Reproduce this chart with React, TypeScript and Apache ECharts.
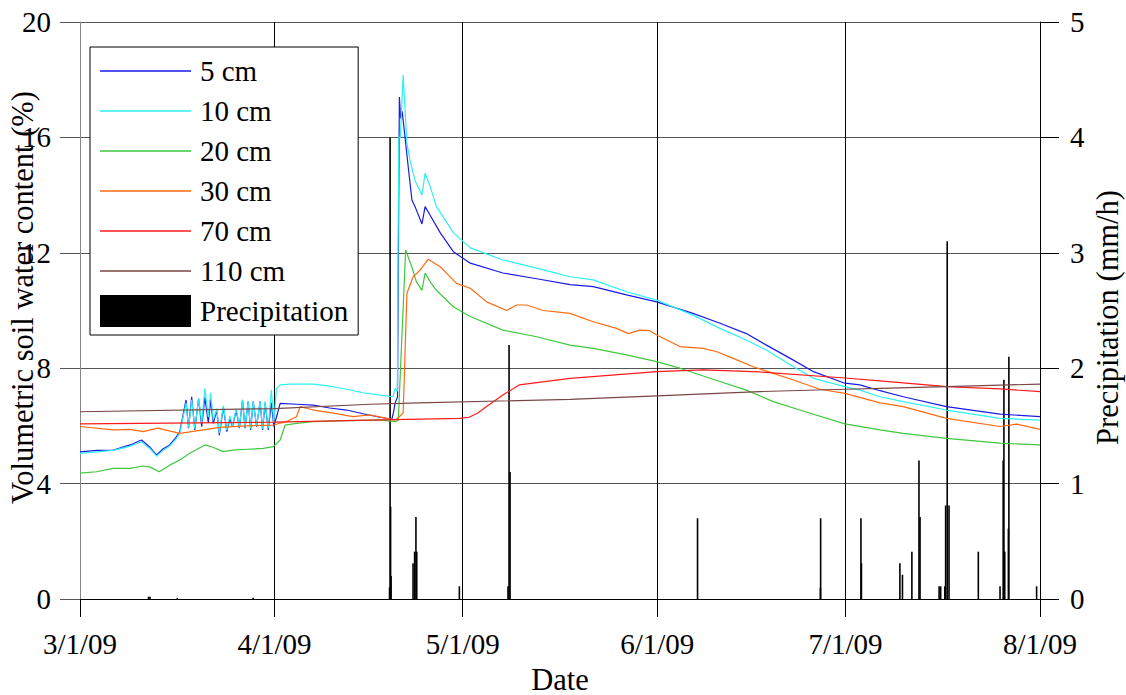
import React, { useEffect, useRef } from "react";
import * as echarts from "echarts";

// Days since 2009-03-01 00:00 and values
const START = [2009, 2, 1];
const END = [2009, 7, 1];

const cm5: [number, number][] = [
  [0, 5.1], [2.66, 5.15], [5.3, 5.16], [8.0, 5.34], [9.8, 5.51], [11.2, 5.25], [12.2, 4.99], [13.2, 5.2],
  [14.3, 5.34], [15.3, 5.6], [15.9, 5.8], [16.9, 6.9], [17.3, 5.92], [17.8, 7.01], [18.3, 5.86], [18.9, 6.95],
  [19.4, 5.97], [19.9, 7.0], [20.45, 6.1], [20.8, 6.9], [21.25, 6.09], [21.8, 6.55], [22.2, 5.68], [22.85, 6.65],
  [23.4, 5.8], [23.9, 6.26], [24.3, 5.97], [24.9, 6.55], [25.4, 5.92], [25.9, 6.9], [26.3, 5.92], [26.8, 6.85],
  [27.2, 5.86], [27.6, 6.85], [28.15, 5.97], [28.7, 6.85], [29.1, 5.86], [29.5, 6.8], [30.0, 5.86], [30.5, 6.8],
  [30.9, 5.97], [31.9, 6.78], [34.5, 6.75], [37.2, 6.72], [39.8, 6.62], [42.5, 6.55], [45.1, 6.42], [47.8, 6.3],
  [49.7, 6.23], [50.0, 6.5], [50.2, 6.78], [50.6, 7.0], [50.9, 17.4], [51.1, 16.66], [51.35, 16.9], [52.3, 15.0],
  [52.9, 13.83], [53.4, 13.6], [54.5, 13.0], [55.0, 13.6], [55.8, 13.3], [57.4, 12.7], [59.5, 12.04], [62.2, 11.64],
  [67.4, 11.3], [72.8, 11.1], [78.1, 10.9], [81.8, 10.83], [87.1, 10.54], [91.9, 10.3], [97.7, 9.9], [102.0, 9.56],
  [106.2, 9.2], [109.4, 8.8], [113.7, 8.28], [116.9, 7.88], [121.9, 7.48], [124.3, 7.42], [127.5, 7.22], [131.2, 7.01],
  [138.1, 6.67], [146.6, 6.41], [153, 6.32],
];

const cm10: [number, number][] = [
  [0, 5.05], [2.66, 5.1], [5.3, 5.15], [8.0, 5.3], [9.8, 5.45], [11.2, 5.2], [12.2, 4.95], [13.2, 5.15],
  [14.3, 5.3], [15.3, 5.55], [15.9, 5.75], [16.9, 6.8], [17.3, 5.95], [17.8, 6.9], [18.3, 5.9], [18.9, 6.95],
  [19.4, 6.1], [19.9, 7.3], [20.45, 6.3], [20.8, 7.15], [21.25, 6.2], [21.8, 6.6], [22.2, 5.75], [22.85, 6.7],
  [23.4, 5.85], [23.9, 6.35], [24.3, 6.0], [24.9, 6.6], [25.4, 5.95], [25.9, 6.9], [26.3, 5.95], [26.8, 6.85],
  [27.2, 5.9], [27.6, 6.85], [28.15, 6.0], [28.7, 6.85], [29.1, 5.9], [29.5, 6.85], [30.0, 5.9], [30.5, 7.25],
  [30.9, 6.1], [31.3, 7.3], [31.9, 7.42], [33.5, 7.45], [37.2, 7.45], [39.8, 7.38], [42.5, 7.27], [45.1, 7.15],
  [47.8, 7.07], [49.9, 7.01], [50.2, 7.3], [50.57, 7.2], [50.8, 16.0], [51.05, 16.0], [51.5, 18.16], [52.1, 15.8],
  [52.6, 15.2], [53.4, 14.5], [54.5, 14.0], [55.0, 14.76], [55.8, 14.3], [56.8, 13.6], [59.5, 12.7], [62.2, 12.17],
  [67.4, 11.75], [72.8, 11.47], [78.1, 11.17], [81.8, 11.06], [87.1, 10.65], [91.9, 10.36], [97.7, 9.84], [102.0, 9.38],
  [106.2, 8.98], [109.4, 8.63], [113.7, 8.05], [116.9, 7.65], [121.9, 7.36], [124.3, 7.24], [127.5, 7.01], [131.2, 6.84],
  [138.1, 6.55], [146.6, 6.26], [153, 6.2],
];

const cm20: [number, number][] = [
  [0, 4.36], [2.66, 4.41], [5.3, 4.53], [8.0, 4.53], [10.0, 4.61], [11.2, 4.57], [12.6, 4.41], [14.3, 4.64],
  [15.9, 4.82], [17.5, 5.05], [19.9, 5.34], [21.2, 5.26], [22.8, 5.11], [24.4, 5.16], [26.6, 5.19], [29.2, 5.22],
  [30.8, 5.28], [31.9, 5.51], [32.7, 6.03], [34.5, 6.09], [37.2, 6.15], [42.5, 6.18], [47.8, 6.2], [50.4, 6.15],
  [50.73, 6.2], [51.9, 12.1], [52.9, 11.5], [53.6, 11.0], [54.5, 10.7], [55.0, 11.3], [55.8, 11.0], [56.8, 10.7],
  [59.5, 10.13], [62.2, 9.79], [67.4, 9.32], [72.8, 9.09], [78.1, 8.8], [81.8, 8.69], [87.1, 8.46], [91.9, 8.23],
  [95.6, 8.0], [100.4, 7.65], [106.2, 7.24], [110.5, 6.84], [114.7, 6.55], [121.9, 6.07], [127.5, 5.86], [131.2, 5.74],
  [138.1, 5.57], [146.6, 5.4], [153, 5.34],
];

const cm30: [number, number][] = [
  [0, 5.98], [5.3, 5.86], [8.0, 5.88], [10.1, 5.8], [12.4, 5.92], [15.9, 5.74], [18.6, 5.83], [22.3, 5.95],
  [26.6, 6.0], [30.8, 6.03], [32.9, 6.15], [34.5, 6.32], [35.1, 6.67], [37.2, 6.55], [40.4, 6.44], [43.5, 6.32],
  [46.2, 6.38], [48.9, 6.26], [50.2, 6.2], [50.8, 6.3], [51.5, 6.45], [51.8, 8.5], [52.1, 10.6], [53.1, 11.17],
  [54.2, 11.4], [55.5, 11.78], [57.4, 11.52], [60.0, 10.94], [62.2, 10.77], [64.8, 10.3], [68.0, 10.0], [69.6, 10.19],
  [71.2, 10.19], [73.8, 10.0], [78.1, 9.9], [81.8, 9.61], [85.5, 9.38], [87.4, 9.2], [89.2, 9.32], [90.8, 9.3],
  [91.9, 9.15], [95.6, 8.75], [99.3, 8.69], [101.5, 8.57], [104.1, 8.34], [107.3, 8.05], [110.5, 7.82], [113.7, 7.59],
  [117.9, 7.27], [121.9, 7.13], [127.5, 6.8], [131.2, 6.67], [138.1, 6.26], [146.6, 5.98], [149.3, 6.06], [153, 5.88],
];

const cm70: [number, number][] = [
  [0, 6.07], [31, 6.13], [50, 6.22], [60.5, 6.26], [62.0, 6.3], [63.4, 6.45], [64.8, 6.67], [67.4, 7.07],
  [70.0, 7.42], [78.1, 7.65], [91.9, 7.88], [99.3, 7.94], [108.3, 7.87], [121.9, 7.66], [127.5, 7.56], [138.1, 7.36],
  [146.6, 7.28], [153, 7.19],
];

const cm110: [number, number][] = [
  [0, 6.49], [31, 6.6], [46.2, 6.75], [54.0, 6.8], [78.1, 6.92], [91.9, 7.04], [108.3, 7.19], [121.9, 7.27],
  [127.5, 7.3], [138.1, 7.36], [153, 7.45],
];

const precipitation: [number, number][] = [
  [10.92, 0.02], [11.16, 0.02], [15.5, 0.01], [27.6, 0.01], [49.33, 0.1], [49.42, 4.0], [49.5, 0.8], [49.58, 0.2],
  [53.08, 0.31], [53.33, 0.41], [53.54, 0.71], [53.67, 0.41], [60.46, 0.11], [68.21, 0.11], [68.38, 2.2], [68.54, 1.1],
  [98.42, 0.7], [118.0, 0.1], [118.04, 0.7], [124.46, 0.7], [124.54, 0.31], [130.67, 0.31], [131.08, 0.21], [132.58, 0.41],
  [133.71, 1.2], [133.88, 0.71], [136.92, 0.11], [137.17, 0.11], [137.83, 0.11], [137.96, 0.81], [138.21, 3.1], [138.5, 0.81],
  [143.17, 0.41], [146.63, 0.11], [147.13, 1.2], [147.25, 1.9], [147.38, 0.41], [147.96, 0.61], [148.04, 2.1], [152.46, 0.11],
];

const seriesNames = ["5 cm", "10 cm", "20 cm", "30 cm", "70 cm", "110 cm"];
const seriesColors = ["#1a1ae6", "#2ef0f0", "#3ec83e", "#ff6a10", "#ff1a1a", "#7a4646"];
const seriesData = [cm5, cm10, cm20, cm30, cm70, cm110];

const FONT = "'Liberation Serif', 'Times New Roman', serif";
const DAY = 86400000;
const LINE_ICON = "path://M0,0L0,0ZM91,32L91,32ZM0,15.3L91,15.3L91,16.7L0,16.7Z";

export default function App() {
  const ref = useRef<HTMLDivElement>(null);
  useEffect(() => {
    if (!ref.current) return;
    const chart = echarts.init(ref.current, null, { renderer: "svg" });
    const t0 = new Date(START[0], START[1], START[2]).getTime();
    const t1 = new Date(END[0], END[1], END[2]).getTime();
    const toT = (arr: [number, number][]) => arr.map(([d, v]) => [t0 + d * DAY, v]);
    const fmt = (val: number) => {
      const d = new Date(val);
      return `${d.getMonth() + 1}/${d.getDate()}/${String(d.getFullYear()).slice(2)}`;
    };
    const textBase = { fontFamily: FONT, fontSize: 29, color: "#000" };
    const titleBase = { fontFamily: FONT, fontSize: 30.5, color: "#000" };
    chart.setOption({
      animation: false,
      backgroundColor: "#fff",
      textStyle: { fontFamily: FONT },
      grid: { left: 80, right: 86, top: 22, bottom: 96, containLabel: false, outerBoundsMode: "none" },
      legend: {
        orient: "vertical",
        left: 90,
        top: 47,
        padding: [8, 10, 8, 10],
        itemWidth: 91,
        itemHeight: 32,
        itemGap: 8,
        backgroundColor: "#fff",
        borderColor: "#000",
        borderWidth: 1,
        textStyle: { ...textBase, padding: [0, 0, 0, 4] },
        data: [
          ...seriesNames.map((n, i) => ({ name: n, icon: LINE_ICON, itemStyle: { color: seriesColors[i] } })),
          { name: "Precipitation", icon: "rect", itemStyle: { color: "#000" } },
        ],
      },
      xAxis: {
        type: "time",
        min: t0,
        max: t1,
        name: "Date",
        nameLocation: "middle",
        nameGap: 65,
        nameMoveOverlap: false,
        nameTextStyle: titleBase,
        axisLine: { show: true, lineStyle: { color: "#000", width: 1 } },
        axisTick: { show: true, inside: false, length: 18, lineStyle: { color: "#000" } },
        splitLine: { show: true, lineStyle: { color: "#000", width: 1 } },
        axisLabel: { ...textBase, margin: 30, showMinLabel: true, showMaxLabel: true, formatter: fmt, hideOverlap: false },
        minorTick: { show: false },
      },
      yAxis: [
        {
          type: "value",
          min: 0,
          max: 20,
          interval: 4,
          name: "Volumetric soil water content (%)",
          nameLocation: "middle",
          nameGap: 42,
          nameRotate: 90,
          nameMoveOverlap: false,
          nameTextStyle: { ...titleBase, padding: [0, 0, 0, 26] },
          axisLine: { show: true, lineStyle: { color: "#888", width: 1 } },
          axisTick: { show: true, length: 20, lineStyle: { color: "#555" } },
          splitLine: { show: true, lineStyle: { color: "#555", width: 1 } },
          axisLabel: { ...textBase, margin: 29 },
        },
        {
          type: "value",
          min: 0,
          max: 5,
          interval: 1,
          position: "right",
          name: "Precipitation (mm/h)",
          nameLocation: "middle",
          nameGap: 52,
          nameRotate: 90,
          nameMoveOverlap: false,
          nameTextStyle: { ...titleBase, padding: [0, 14, 0, 0] },
          axisLine: { show: true, lineStyle: { color: "#000", width: 1 } },
          axisTick: { show: true, length: 19, lineStyle: { color: "#000" } },
          splitLine: { show: false },
          axisLabel: { ...textBase, margin: 30 },
        },
      ],
      series: [
        {
          name: "Precipitation",
          type: "custom",
          yAxisIndex: 1,
          itemStyle: { color: "#000" },
          encode: { x: 0, y: 1 },
          data: toT(precipitation),
          z: 1,
          renderItem: (params: any, api: any) => {
            const t = api.value(0);
            const v = api.value(1);
            const top = api.coord([t, v]);
            const base = api.coord([t, 0]);
            return {
              type: "rect",
              shape: { x: top[0] - 0.8, y: top[1], width: 1.6, height: base[1] - top[1] },
              style: { fill: "#000" },
            };
          },
        },
        ...seriesNames.map((n, i) => ({
          name: n,
          type: "line",
          yAxisIndex: 0,
          symbol: "none",
          showSymbol: false,
          lineStyle: { color: seriesColors[i], width: 1.2 },
          itemStyle: { color: seriesColors[i] },
          data: toT(seriesData[i]),
          z: 3,
        })),
      ],
    });
    return () => chart.dispose();
  }, []);
  return <div ref={ref} style={{ position: "fixed", left: 0, top: 0, width: 1126, height: 695 }} />;
}
